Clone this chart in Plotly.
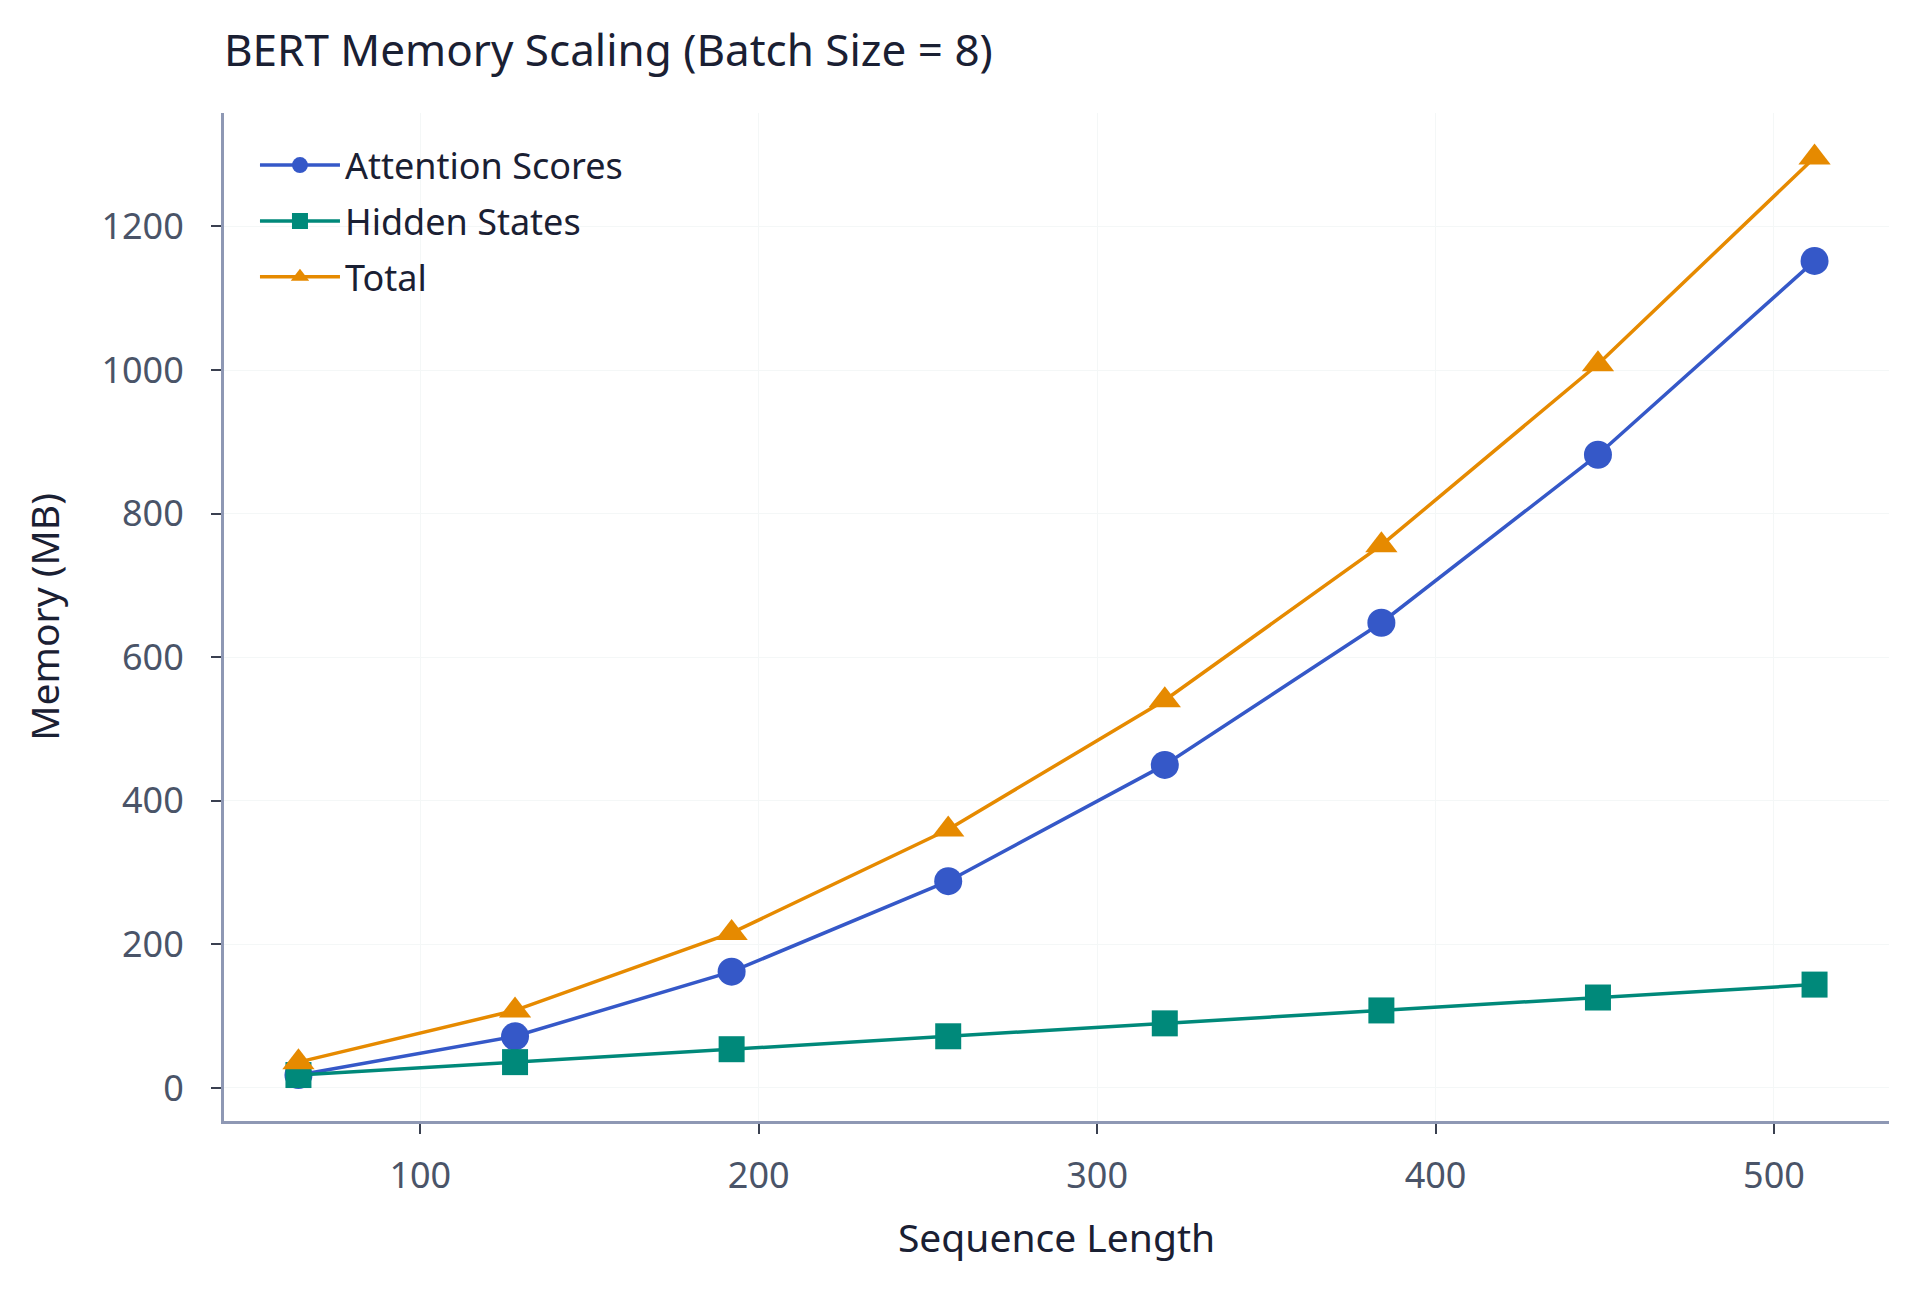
import plotly.graph_objects as go

# sequence lengths and memory use (MB), batch size 8
seq_len = [64, 128, 192, 256, 320, 384, 448, 512]
attention_mb = [18, 72, 162, 288, 450, 648, 882, 1152]
hidden_mb = [18, 36, 54, 72, 90, 108, 126, 144]
total_mb = [36, 108, 216, 360, 540, 756, 1008, 1296]

FONT = "Noto Sans"
INK = "#1a2033"

fig = go.Figure()
fig.add_trace(go.Scatter(
    x=seq_len, y=attention_mb, mode="lines+markers", name="Attention Scores",
    legendgroup="a",
    line=dict(color="#3558c8", width=3.5),
    marker=dict(symbol="circle", size=28, color="#3558c8")
))
fig.add_trace(go.Scatter(
    x=seq_len, y=hidden_mb, mode="lines+markers", name="Hidden States",
    legendgroup="h",
    line=dict(color="#00897a", width=3.5),
    marker=dict(symbol="square", size=26, color="#00897a")
))
fig.add_trace(go.Scatter(
    x=seq_len, y=total_mb, mode="lines+markers", name="Total",
    legendgroup="t",
    line=dict(color="#e68a00", width=3.5),
    marker=dict(symbol="triangle-up", size=28, color="#e68a00")
))

# the page body adds an 8px margin, so margins are shifted by 8
fig.update_layout(
    width=1920, height=1292,
    margin=dict(l=216, r=39, t=105, b=179),
    paper_bgcolor="white", plot_bgcolor="white",
    font=dict(family=FONT, color=INK),
    title=dict(text="BERT Memory Scaling (Batch Size = 8)", x=216 / 1920, xanchor="left",
               y=1 - 43 / 1292, yanchor="middle", font=dict(size=44, color=INK)),
    legend=dict(x=0.0186, y=0.978, xanchor="left", yanchor="top", bgcolor="rgba(0,0,0,0)",
                font=dict(size=36, color=INK), itemwidth=80, tracegroupgap=6),
    showlegend=True,
)
fig.update_xaxes(
    title=dict(text="Sequence Length", font=dict(size=39, color=INK), standoff=27),
    range=[42, 534], tickvals=[100, 200, 300, 400, 500],
    showline=True, linecolor="#8e98b4", linewidth=3,
    ticks="outside", ticklen=10, tickwidth=2, tickcolor="#3a4050",
    tickfont=dict(size=36, color="#4a5468"), ticklabelstandoff=11,
    showgrid=True, gridcolor="#f4f7f7", gridwidth=1, zeroline=False,
)
fig.update_yaxes(
    title=dict(text="Memory (MB)", font=dict(size=39, color=INK), standoff=30),
    range=[-46, 1358], tickvals=[0, 200, 400, 600, 800, 1000, 1200],
    showline=True, linecolor="#8e98b4", linewidth=3,
    ticks="outside", ticklen=10, tickwidth=2, tickcolor="#3a4050",
    tickfont=dict(size=36, color="#4a5468"), ticklabelstandoff=20,
    showgrid=True, gridcolor="#f4f7f7", gridwidth=1, zeroline=False,
)

fig.write_html("out.html")
